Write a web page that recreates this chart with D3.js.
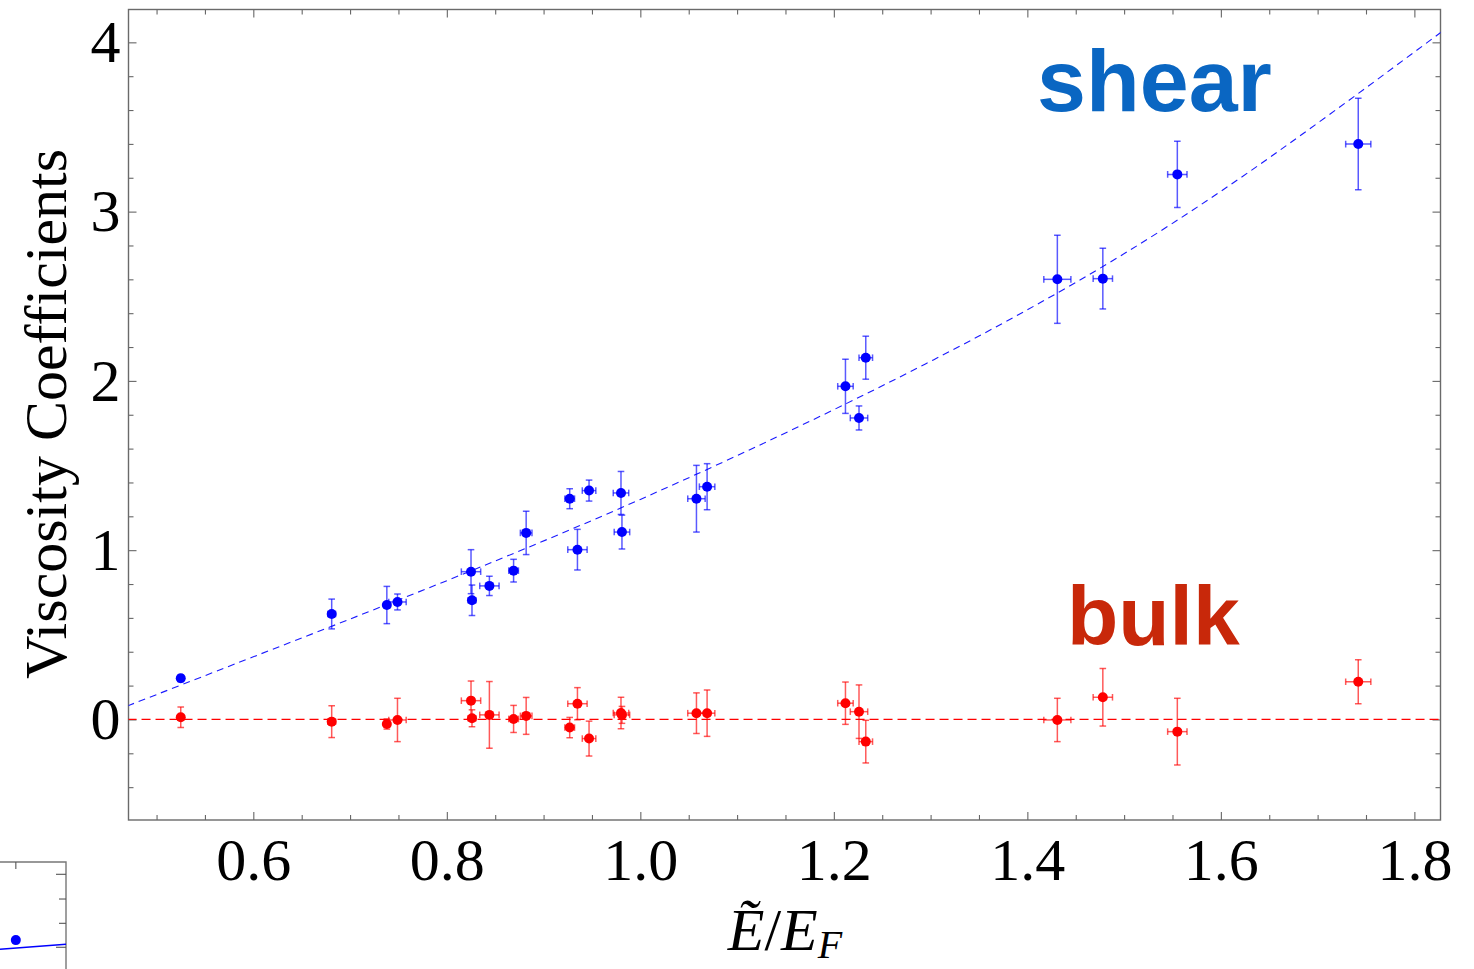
<!DOCTYPE html>
<html lang="en">
<head>
<meta charset="utf-8" />
<title>Viscosity coefficients</title>
<style type="text/css">
  body { margin: 0; background: #fff; }
  svg { display: block; }
  .tick text { font-family: "Liberation Serif", "Times New Roman", serif; }
</style>
</head>
<body>
<div id="graph"></div>
<script src="https://d3js.org/d3.v7.min.js"></script>
<script type="text/javascript">
var CHART_WIDTH = 1474;
var CHART_HEIGHT = 969;
var margin = { top: 9.5, right: 33.5, bottom: 149, left: 128.5 },
    width = CHART_WIDTH - margin.left - margin.right,
    height = CHART_HEIGHT - margin.top - margin.bottom;

// E~/E_F of each measurement and its uncertainty
var energy    = [0.525, 0.681, 0.738, 0.749, 0.825, 0.826, 0.844, 0.869, 0.882, 0.927, 0.935, 0.947,
                 0.980, 0.981, 1.058, 1.069, 1.212, 1.226, 1.233, 1.431, 1.478, 1.555, 1.742];
var energyErr = [0.003, 0.004, 0.003, 0.009, 0.010, 0.004, 0.010, 0.005, 0.006, 0.005, 0.010, 0.007,
                 0.008, 0.008, 0.009, 0.008, 0.008, 0.009, 0.007, 0.014, 0.010, 0.010, 0.013];
// shear viscosity coefficient
var shear     = [0.243, 0.623, 0.676, 0.694, 0.873, 0.704, 0.789, 0.879, 1.102, 1.304, 1.003, 1.352,
                 1.338, 1.107, 1.304, 1.375, 1.968, 1.781, 2.137, 2.600, 2.604, 3.220, 3.399];
var shearErr  = [0.020, 0.088, 0.110, 0.047, 0.130, 0.090, 0.057, 0.067, 0.128, 0.059, 0.120, 0.062,
                 0.127, 0.100, 0.197, 0.136, 0.160, 0.071, 0.127, 0.260, 0.179, 0.195, 0.270];
// bulk viscosity coefficient
var bulk      = [0.013, -0.013, -0.027, -0.003, 0.111, 0.007, 0.027, 0.003, 0.021, -0.048, 0.093, -0.113,
                 0.038, 0.027, 0.037, 0.037, 0.096, 0.046, -0.131, -0.003, 0.131, -0.072, 0.223];
var bulkErr   = [0.060, 0.094, 0.030, 0.128, 0.116, 0.050, 0.197, 0.080, 0.109, 0.060, 0.095, 0.103,
                 0.093, 0.050, 0.120, 0.137, 0.125, 0.158, 0.126, 0.128, 0.170, 0.197, 0.130];

// dashed fit curves
var shearFitX = [0.47, 0.60, 0.80, 1.00, 1.20, 1.40, 1.60, 1.83];
var shearFitY = [0.08, 0.37, 0.82, 1.30, 1.83, 2.42, 3.12, 4.07];
var bulkFitX  = [0.47, 1.83];
var bulkFitY  = [0, 0];

var xMajor = [0.6, 0.8, 1.0, 1.2, 1.4, 1.6, 1.8];
var yMajor = [0, 1, 2, 3, 4];

// bit of the neighbouring panel that sticks into the bottom-left corner
var insetPointX = [0.24], insetPointY = [0.27];
var insetLineX  = [0, 1], insetLineY  = [0.184, 0.231];
var insetTicks  = [0.885, 0.654, 0.427, 0.203];

var xScale = d3.scaleLinear().domain([0.471, 1.827]).range([0, width]);
var yScale = d3.scaleLinear().domain([-0.594, 4.194]).range([height, 0]);

var xMinor = d3.range(0.5, 1.83, 0.05).filter(function(v){ return !xMajor.some(function(m){ return Math.abs(m - v) < 1e-6; }); });
var yMinor = d3.range(-0.4, 4.2, 0.2).filter(function(v){ return Math.abs(v - Math.round(v)) > 1e-6; });

var svg0 = d3.select("#graph").append("svg")
    .attr("width", CHART_WIDTH)
    .attr("height", CHART_HEIGHT);

var svg = svg0.append("g")
    .attr("transform", "translate(" + margin.left + "," + margin.top + ")");

svg.append("defs").append("clipPath").attr("id", "plotclip")
  .append("rect").attr("width", width).attr("height", height);

// frame ticks, pointing inward on all four sides
function tickAxis(axis, vals, len) {
  return axis.tickValues(vals).tickSize(-len).tickFormat("");
}
var frame = svg.append("g").attr("class", "frame");
var sides = [
  { ax: d3.axisBottom(xScale), vals: [xMinor, xMajor], t: "translate(0," + height + ")" },
  { ax: d3.axisTop(xScale),    vals: [xMinor, xMajor], t: "translate(0,0)" },
  { ax: d3.axisLeft(yScale),   vals: [yMinor, yMajor], t: "translate(0,0)" },
  { ax: d3.axisRight(yScale),  vals: [yMinor, yMajor], t: "translate(" + width + ",0)" }
];
sides.forEach(function(s) {
  frame.append("g").attr("transform", s.t)
    .call(tickAxis(s.ax, s.vals[0], 5));
  frame.append("g").attr("transform", s.t)
    .call(tickAxis(s.ax, s.vals[1], 8));
});
frame.selectAll("path.domain").remove();
frame.selectAll("line").attr("stroke", "#666").attr("stroke-width", 1.1);

svg.append("rect")
  .attr("width", width).attr("height", height)
  .attr("fill", "none").attr("stroke", "#6a6a6a").attr("stroke-width", 1.4);

// tick labels
svg.append("g")
  .attr("transform", "translate(0," + height + ")")
  .call(d3.axisBottom(xScale).tickValues(xMajor).tickSize(0).tickPadding(17).tickFormat(d3.format(".1f")))
  .call(function(g){ g.select(".domain").remove(); })
  .selectAll("text")
  .attr("font-size", 60).attr("fill", "#000");

svg.append("g")
  .call(d3.axisLeft(yScale).tickValues(yMajor).tickSize(0).tickPadding(8).tickFormat(d3.format("d")))
  .call(function(g){ g.select(".domain").remove(); })
  .selectAll("text")
  .attr("font-size", 60).attr("fill", "#000");

// axis titles
svg0.append("text")
  .attr("transform", "translate(66,414) rotate(-90)")
  .attr("text-anchor", "middle")
  .attr("font-family", "'Liberation Serif', 'Times New Roman', serif")
  .attr("font-size", 60)
  .text("Viscosity Coefficients");

var xt = svg0.append("text")
  .attr("x", 785).attr("y", 950)
  .attr("text-anchor", "middle")
  .attr("font-family", "'Liberation Serif', 'Times New Roman', serif")
  .attr("font-size", 60);
xt.append("tspan").attr("font-style", "italic").text("\u1EBC");
xt.append("tspan").text("/");
xt.append("tspan").attr("font-style", "italic").text("E");
xt.append("tspan").attr("font-style", "italic").attr("font-size", 40).attr("dy", 8).text("F");

// data
var plot = svg.append("g").attr("clip-path", "url(#plotclip)");

var line = d3.line().curve(d3.curveNatural)
  .x(function(d){ return xScale(d[0]); })
  .y(function(d){ return yScale(d[1]); });

plot.append("path")
  .datum(d3.zip(bulkFitX, bulkFitY))
  .attr("d", line)
  .attr("fill", "none").attr("stroke", "#ff0000").attr("stroke-width", 1.2)
  .attr("stroke-dasharray", "9,5");

plot.append("path")
  .datum(d3.zip(shearFitX, shearFitY))
  .attr("d", line)
  .attr("fill", "none").attr("stroke", "#1a1aff").attr("stroke-width", 1.1)
  .attr("stroke-dasharray", "7,5");

function drawSeries(vals, errs, color) {
  var data = energy.map(function(x, i){ return { x: x, xe: energyErr[i], y: vals[i], ye: errs[i] }; });
  var g = plot.append("g");
  var cap = 3.3;
  var eb = g.selectAll("g.err").data(data).enter().append("g").attr("class", "err")
    .attr("stroke", color).attr("stroke-opacity", 0.65).attr("stroke-width", 1.5);
  eb.append("line")
    .attr("x1", function(d){ return xScale(d.x); }).attr("x2", function(d){ return xScale(d.x); })
    .attr("y1", function(d){ return yScale(d.y - d.ye); }).attr("y2", function(d){ return yScale(d.y + d.ye); });
  eb.append("line")
    .attr("x1", function(d){ return xScale(d.x) - cap; }).attr("x2", function(d){ return xScale(d.x) + cap; })
    .attr("y1", function(d){ return yScale(d.y + d.ye); }).attr("y2", function(d){ return yScale(d.y + d.ye); });
  eb.append("line")
    .attr("x1", function(d){ return xScale(d.x) - cap; }).attr("x2", function(d){ return xScale(d.x) + cap; })
    .attr("y1", function(d){ return yScale(d.y - d.ye); }).attr("y2", function(d){ return yScale(d.y - d.ye); });
  eb.append("line")
    .attr("x1", function(d){ return xScale(d.x - d.xe); }).attr("x2", function(d){ return xScale(d.x + d.xe); })
    .attr("y1", function(d){ return yScale(d.y); }).attr("y2", function(d){ return yScale(d.y); });
  eb.append("line")
    .attr("x1", function(d){ return xScale(d.x - d.xe); }).attr("x2", function(d){ return xScale(d.x - d.xe); })
    .attr("y1", function(d){ return yScale(d.y) - cap; }).attr("y2", function(d){ return yScale(d.y) + cap; });
  eb.append("line")
    .attr("x1", function(d){ return xScale(d.x + d.xe); }).attr("x2", function(d){ return xScale(d.x + d.xe); })
    .attr("y1", function(d){ return yScale(d.y) - cap; }).attr("y2", function(d){ return yScale(d.y) + cap; });
  g.selectAll("circle").data(data).enter().append("circle")
    .attr("cx", function(d){ return xScale(d.x); })
    .attr("cy", function(d){ return yScale(d.y); })
    .attr("r", 5)
    .attr("fill", color);
}
drawSeries(bulk, bulkErr, "#ff0000");
drawSeries(shear, shearErr, "#0000ff");

// series labels
svg0.append("text")
  .attr("x", 1037).attr("y", 111)
  .attr("font-family", "'Liberation Sans', Arial, sans-serif")
  .attr("font-weight", "bold").attr("font-size", 88)
  .attr("fill", "#0a66c2")
  .text("shear");
svg0.append("text")
  .attr("x", 1067).attr("y", 645)
  .attr("font-family", "'Liberation Sans', Arial, sans-serif")
  .attr("font-weight", "bold").attr("font-size", 84)
  .attr("fill", "#c8280a")
  .text("bulk");

// corner of the neighbouring panel
var insetX = d3.scaleLinear().domain([0, 1]).range([0, 66]);
var insetY = d3.scaleLinear().domain([0, 1]).range([969, 862]);
var inset = svg0.append("g");
inset.append("path")
  .attr("d", "M0," + insetY(1) + "H" + insetX(1) + "V" + CHART_HEIGHT)
  .attr("fill", "none").attr("stroke", "#777").attr("stroke-width", 1.4);
inset.selectAll("line.rt").data(insetTicks).enter().append("line")
  .attr("x1", function(d, i){ return insetX(1) - (i === 0 || i === 3 ? 10 : 7); })
  .attr("x2", insetX(1))
  .attr("y1", function(d){ return insetY(d); }).attr("y2", function(d){ return insetY(d); })
  .attr("stroke", "#555").attr("stroke-width", 1.1);
inset.append("line")
  .attr("x1", insetX(insetPointX[0])).attr("x2", insetX(insetPointX[0]))
  .attr("y1", insetY(1)).attr("y2", insetY(1) + 7)
  .attr("stroke", "#555").attr("stroke-width", 1.1);
inset.append("path")
  .datum(d3.zip(insetLineX, insetLineY))
  .attr("d", d3.line().x(function(d){ return insetX(d[0]); }).y(function(d){ return insetY(d[1]); }))
  .attr("stroke", "#0000ff").attr("stroke-width", 1.5).attr("fill", "none");
inset.selectAll("circle").data(insetPointX).enter().append("circle")
  .attr("cx", function(d){ return insetX(d); })
  .attr("cy", function(d, i){ return insetY(insetPointY[i]); })
  .attr("r", 5).attr("fill", "#0000ff");
</script>
</body>
</html>
